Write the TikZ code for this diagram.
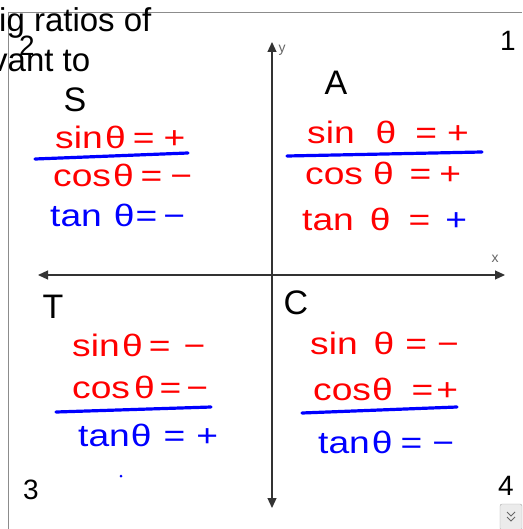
\documentclass[tikz,border=0pt]{standalone}
\usepackage{fontspec}
\setmainfont{Liberation Sans}
\usetikzlibrary{arrows.meta}

% one handwritten line: function, gap, theta, gap, equals, gap, sign
\newcommand\trigline[5]{#1\hspace{#2pt}θ\hspace{#3pt}=\hspace{#4pt}#5}

\begin{document}
\begin{tikzpicture}[
  x=1pt, y=-1pt,
  hand/.style={anchor=base west, inner sep=0pt, font=\fontsize{31}{33}\selectfont\addfontfeature{FakeStretch=1.2}},
  redeq/.style={hand, text=red},
  blueeq/.style={hand, text=blue},
  quad/.style={inner sep=0pt, font=\fontsize{34}{36}\selectfont},
  num/.style={inner sep=0pt, font=\fontsize{28}{30}\selectfont},
  axislbl/.style={inner sep=0pt, text=black!60, font=\fontsize{14}{16}\selectfont},
  axis/.style={draw=black!80, line width=1.2pt, {Triangle[length=10pt,width=9pt]}-{Triangle[length=10pt,width=9pt]}},
  bar/.style={draw=blue, line width=3.2pt, line cap=round},
  frame/.style={draw=black!45, line width=1pt}
]
\useasboundingbox (0,0) rectangle (522,529);
\clip (0,0) rectangle (522,529);

% page text and frame
\draw[frame] (8,529) -- (8,13) -- (522,13);
\node[anchor=base west, inner sep=0pt, font=\fontsize{33}{40}\selectfont] (line1) at (-1,32) {ig ratios of};
\node[anchor=base west, inner sep=0pt, font=\fontsize{33}{40}\selectfont] (line2) at (-9,72) {vant to};

% axes
\coordinate (xl) at (38,275);
\coordinate (xr) at (505,275);
\coordinate (yt) at (272,42);
\coordinate (yb) at (272,508);
\draw[axis] (xl) -- (xr);
\draw[axis] (yt) -- (yb);
\node[axislbl] (xlbl) at (495,259) {x};
\node[axislbl] (ylbl) at (282,50) {y};

% quadrant numbers
\node[num] (n1) at (508,41) {1};
\node[num] (n2) at (27,46) {2};
\node[num] (n3) at (31,490) {3};
\node[num] (n4) at (506,486) {4};

% quadrant letters
\node[quad] (qS) at (75,100) {S};
\node[quad] (qA) at (336,83) {A};
\node[quad] (qT) at (53,307) {T};
\node[quad] (qC) at (296,303) {C};

% quadrant II
\node[redeq] (sin2) at (55,149) {\trigline{sin}{2.5}{7}{9}{+}};
\draw[bar] (35,159) -- (188,153);
\node[redeq] (cos2) at (53,186) {\trigline{cos}{2}{7}{8}{−}};
\node[blueeq] (tan2) at (50,226) {\trigline{tan}{12}{1}{6}{−}};

% quadrant I
\node[redeq] (sin1) at (307,144) {\trigline{sin}{21}{19}{10}{+}};
\draw[bar] (287,156) -- (482,152);
\node[redeq] (cos1) at (305,185) {\trigline{cos}{10}{16}{8}{+}};
\node[redeq] (tan1) at (302,230) {\trigline{tan}{16}{18}{15}{\textcolor{blue}{+}}};

% quadrant III
\node[redeq] (sin3) at (72,356) {\trigline{sin}{2.5}{6}{13}{−}};
\node[redeq] (cos3) at (72,398) {\trigline{cos}{4}{5}{5}{−}};
\draw[bar] (56,412) -- (211,407);
\node[blueeq] (tan3) at (78,446) {\trigline{tan}{1}{12}{11}{+}};
\fill[blue] (121,476) circle (1.5pt);

% quadrant IV
\node[redeq] (sin4) at (310,354) {\trigline{sin}{16}{11}{10}{−}};
\node[redeq] (cos4) at (313,400) {\trigline{cos}{1}{19}{3}{+}};
\draw[bar] (302,413) -- (457,407);
\node[blueeq] (tan4) at (318,453) {\trigline{tan}{2}{8}{10}{−}};

% scroll button
\node[draw=black!35, fill=black!8, rounded corners=2pt, minimum width=22pt, minimum height=26pt, inner sep=0pt] (scroll) at (511,517) {};
\draw[black!60, line width=1pt] (scroll.center) ++(-4,-5) -- ++(4,4) -- ++(4,-4);
\draw[black!60, line width=1pt] (scroll.center) ++(-4,0) -- ++(4,4) -- ++(4,-4);
\end{tikzpicture}
\end{document}
